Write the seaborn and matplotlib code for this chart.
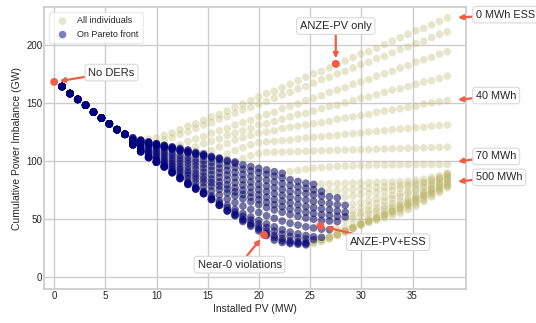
import matplotlib
matplotlib.use("Agg")
import matplotlib.pyplot as plt
import numpy as np
import pandas as pd
import seaborn as sns

# Installed PV of each evaluated design (MW)
pv_mw = [0.77, 1.54, 2.30, 3.07, 3.84, 4.61, 5.38, 6.14, 6.91, 7.68, 8.45, 9.22, 9.98,
         10.75, 11.52, 12.29, 13.06, 13.82, 14.59, 15.36, 16.13, 16.90, 17.66, 18.43,
         19.20, 19.97, 20.74, 21.50, 22.27, 23.04, 23.81, 24.58, 25.34, 26.11, 26.88,
         27.65, 28.42, 29.18, 29.95, 30.72, 31.49, 32.26, 33.02, 33.79, 34.56, 35.33,
         36.10, 36.86, 37.63, 38.40]

# Imbalance (GW) for the first 9 PV sizes: identical for every ESS size
shared_low_pv = [164, 158, 153, 148, 142, 137, 132, 127, 123]

# Imbalance (GW) for PV sizes 7.68 .. 38.40 MW, one list per ESS size (MWh)
ess_0 = [120, 118, 119, 120, 122, 124, 127, 130, 132, 135, 138, 140, 143, 146, 149, 152, 155, 158, 160, 163, 166,
         169, 172, 175, 177, 180, 183, 186, 189, 192, 194, 197, 200, 203, 206, 209, 212, 214, 217, 220, 223]
ess_10 = [120, 118, 116.5, 115, 118, 120, 123, 125, 128, 131, 133, 136, 138, 141, 144, 146, 149, 151, 154, 157, 159,
          162, 164, 167, 170, 172, 175, 177, 180, 183, 185, 188, 190, 193, 196, 198, 201, 203, 206, 209, 211]
ess_20 = [119, 117.6, 116.2, 114.8, 113.4, 112, 114, 117, 119, 121, 124, 126, 128, 131, 133, 135, 138, 140, 142,
          145, 147, 149, 152, 154, 156, 159, 161, 163, 166, 168, 170, 173, 175, 177, 180, 182, 185, 187, 189, 192, 194]
ess_30 = [118.5, 117.2, 116, 114.7, 113.5, 112.2, 111, 109.7, 112, 115, 117, 119, 122, 124, 126, 128, 131, 132, 134,
          136, 138, 140, 141, 143, 145, 147, 148, 150, 152, 154, 155, 157, 159, 161, 162, 164, 166, 168, 169, 171, 173]
ess_40 = [118, 116.7, 115.4, 114.1, 112.8, 111.5, 110.2, 108.9, 107.6, 106.3, 109, 112, 115, 118, 120, 122, 124, 125,
          126, 128, 129, 130, 131, 132, 133, 134, 136, 137, 138, 139, 140, 142, 143, 144, 145, 146, 147, 149, 150,
          151, 152]
ess_50 = [117.5, 116.2, 114.8, 113.5, 112.1, 110.8, 109.4, 108.1, 106.7, 105.4, 104, 102.7, 106, 109, 111.5, 114,
          116, 116.5, 117, 117.5, 118, 119, 120, 120.5, 121, 121.5, 122, 123, 123.5, 124, 125, 125.5, 126, 127,
          127.5, 128, 128.5, 129, 130, 130.5, 131]
ess_60 = [117.5, 116.1, 114.7, 113.3, 111.9, 110.5, 109.1, 107.7, 106.3, 104.9, 103.5, 102.1, 100.7, 99.3, 102,
          104.5, 106.5, 107.4, 107.6, 107.8, 108, 108.2, 108.4, 108.6, 108.8, 109, 109.2, 109.4, 109.6, 109.8, 110,
          110.2, 110.4, 110.6, 110.8, 111, 111.2, 111.4, 111.6, 111.8, 112]
ess_70 = [117, 115.6, 114.1, 112.7, 111.2, 109.8, 108.3, 106.9, 105.4, 104, 102.5, 101.1, 99.6, 98.2, 96.7, 95.3,
          93.8, 92.4, 90.9, 89.5, 91, 92, 93, 93.8, 94.4, 94.9, 95.3, 95.6, 95.9, 96.1, 96.3, 96.5, 96.6, 96.7,
          96.8, 96.9, 96.9, 97, 97, 97, 97]
ess_80 = [117, 115, 113, 111, 109, 107, 105, 103.5, 102, 100.5, 99, 97.5, 96, 94.5, 93, 91.5, 90, 88.5, 87, 85.5,
          84, 82.5, 81, 80, 80.2, 80.4, 80.6, 80.8, 81, 81.2, 81.4, 81.6, 81.8, 82, 82.3, 82.7, 83.5, 84.5, 86,
          87.5, 89.5]
ess_90 = [116.5, 114, 111.5, 109, 107, 104.8, 102.5, 100.8, 99, 97.2, 95.5, 93.8, 92, 90.2, 88.5, 86.8, 85, 83.5,
          82, 80.5, 79, 77.8, 76.5, 75.3, 74, 74.3, 74.6, 75, 75.5, 76, 76.6, 77.2, 77.8, 78.4, 79.2, 80, 81, 82.2,
          84, 86, 89]
ess_100 = [116, 113, 110, 107.5, 105, 102.5, 100, 98, 96, 94, 92, 90, 88, 86, 84, 82, 80, 78.5, 77, 75.5, 74, 73,
           72, 71, 70, 69.3, 68.5, 69, 70, 71, 72, 73, 74, 75, 76.5, 78, 79.5, 81, 83, 85, 88]
ess_120 = [115.5, 112, 109, 106, 103, 100.3, 97.5, 95, 92.8, 90.5, 88.3, 86, 83.8, 81.5, 79.5, 77.5, 75.5, 73.8, 72,
           70.5, 69, 67.8, 66.5, 65.5, 64.5, 63.5, 62.5, 62, 63, 64.5, 66, 67.5, 69, 70.5, 72, 74, 76, 78.5, 81,
           84, 87]
ess_150 = [115, 111, 107.5, 104, 101, 98, 95, 92, 89.5, 87, 84.5, 82, 79.5, 77, 75, 73, 71, 69, 67, 65.5, 64, 62.5,
           61, 60, 59, 58, 57, 56, 57.5, 59.5, 61.5, 63.5, 65.5, 67.5, 69.5, 72, 74.5, 77, 79.5, 82.5, 85.5]
ess_175 = [114.5, 110.5, 106.5, 102.8, 99.5, 96.3, 93, 89.8, 87, 84.3, 81.5, 78.8, 76, 73.5, 71.3, 69, 66.8, 64.5,
           62.5, 60.8, 59, 57.5, 56, 55, 54, 53.2, 52.5, 52, 53.5, 55.5, 57.5, 59.5, 61.5, 63.5, 65.5, 68, 70.5,
           73.5, 77, 80.5, 84.5]
ess_200 = [114, 110, 105.5, 101.5, 98, 94.5, 91, 87.5, 84.5, 81.5, 78.5, 75.5, 72.5, 70, 67.5, 65, 62.5, 60, 58, 56,
           54, 52.5, 51, 50, 49, 48.5, 48, 49, 51, 53, 55, 57, 59, 61, 63, 66, 69, 72.5, 76, 80, 84]
ess_250 = [114, 109, 104.5, 100.5, 96.8, 92.8, 88.8, 84.8, 81.3, 77.8, 74.3, 70.8, 67.3, 64.3, 61.3, 58.5, 55.8, 53,
           50.8, 48.5, 46.5, 45, 43.5, 42.5, 41.5, 41, 41.5, 43, 45.5, 48, 51, 54, 56.5, 59, 61.5, 64.5, 68, 71.5,
           75, 78.5, 82.5]
ess_300 = [114, 108.5, 103.5, 99.5, 95.5, 91, 86.5, 82, 78, 74, 70, 66, 62, 58.5, 55, 52, 49, 46, 43.5, 41, 39, 37.5,
           36, 35, 34.5, 35.5, 37, 39.5, 42, 45, 48, 51, 54, 57, 60, 63, 67, 70.5, 74, 77.5, 81]
ess_350 = [114, 108, 103, 99, 95, 90.5, 85.8, 81, 77, 73, 68.5, 64, 59.8, 56.3, 52.5, 49.3, 46, 42.8, 39.8, 37.3,
           35.3, 34, 33, 32.5, 33, 34.5, 37, 39.8, 42.5, 45.5, 48.5, 51, 54, 56.8, 59.5, 62.5, 66, 69.5, 73, 76.5, 80]
ess_400 = [114, 108, 103, 99, 95, 90, 85, 80, 76, 72, 67, 62, 57.5, 54, 50, 46.5, 43, 39.5, 36, 33.5, 31.5, 30.5, 30,
           31, 32.5, 34.5, 37, 40, 43, 46, 49, 51.5, 54, 56.5, 59, 62, 65, 68.5, 72, 75.5, 79]
ess_450 = [114, 108, 103, 99, 95, 90, 85, 80, 76, 72, 67, 62, 57.2, 53.5, 49, 45, 41.5, 37.5, 34, 31.5, 30, 29.5, 29,
           30, 31.5, 33.5, 36.5, 39.5, 42.5, 45.5, 48, 50, 52.5, 55, 57, 60, 63, 66.5, 70.5, 74, 78]
ess_500 = [114, 108, 103, 99, 95, 90, 85, 80, 76, 72, 67, 62, 57, 53, 48, 44, 40, 36, 32, 30, 29, 28.5, 28, 29, 31,
           33, 36, 39, 42, 45, 47, 49, 51, 53, 55, 58, 61, 65, 69, 73, 77]

ess_sizes = [0, 10, 20, 30, 40, 50, 60, 70, 80, 90, 100, 120, 150, 175, 200, 250, 300, 350, 400, 450, 500]
ess_curves = [ess_0, ess_10, ess_20, ess_30, ess_40, ess_50, ess_60, ess_70, ess_80, ess_90,
              ess_100, ess_120, ess_150, ess_175, ess_200, ess_250, ess_300, ess_350, ess_400, ess_450, ess_500]

# Highlighted solutions
hl_labels = ["No DERs", "ANZE-PV only", "Near-0 violations", "ANZE-PV+ESS"]
hl_pv = [0.0, 27.5, 20.5, 26.0]
hl_imb = [168, 183.5, 36.5, 44.3]
hl_text_xy = [(5.6, 176), (27.5, 216), (18.1, 11), (32.6, 30.3)]

# ESS curve labels on the right
ess_label_text = ["0 MWh ESS", "40 MWh", "70 MWh", "500 MWh"]
ess_label_target = [223, 152, 99, 82]
ess_label_y = [225.8, 156.3, 104, 86]

# ---- build table ----
rows = []
for ess, curve in zip(ess_sizes, ess_curves):
    ys = shared_low_pv + curve
    best = np.inf
    for p, y in zip(pv_mw, ys):
        pareto = y < best
        best = min(best, y)
        rows.append({"ess": ess, "pv": p, "imbalance": y, "pareto": pareto})
df = pd.DataFrame(rows)

sns.set_theme(style="whitegrid")
plt.rcParams['font.family'] = ['Liberation Sans', 'DejaVu Sans']

fig = plt.figure(figsize=(5.36, 3.23), dpi=100)
ax = fig.add_axes([0.083, 0.105, 0.786, 0.872])

sns.scatterplot(data=df, x="pv", y="imbalance", color="#bdb76b", alpha=0.35, s=30,
                edgecolor="none", label="All individuals", ax=ax, zorder=2)
sns.scatterplot(data=df[df["pareto"]], x="pv", y="imbalance", color="navy", alpha=0.5, s=30,
                edgecolor="none", label="On Pareto front", ax=ax, zorder=3)

red = "#f25c45"
ax.scatter(hl_pv, hl_imb, s=32, color=red, zorder=5, edgecolor="none")

box = dict(boxstyle="round,pad=0.3", fc="white", ec="0.85", lw=0.8)
arrow = dict(arrowstyle="-|>", color=red, lw=1.6, mutation_scale=7, shrinkA=0, shrinkB=4)
for lab, px, py, (tx, ty) in zip(hl_labels, hl_pv, hl_imb, hl_text_xy):
    ax.annotate(lab, xy=(px, py), xytext=(tx, ty), ha="center", va="center", fontsize=8,
                bbox=box, arrowprops=arrow, zorder=6)

for lab, yt, yl in zip(ess_label_text, ess_label_target, ess_label_y):
    ax.annotate(lab, xy=(38.9, yt), xytext=(41.2, yl), ha="left", va="center", fontsize=7.8,
                bbox=box, arrowprops=arrow, annotation_clip=False, zorder=6)

ax.set_xlim(-0.95, 40.2)
ax.set_ylim(-10, 232)
ax.set_xticks([0, 5, 10, 15, 20, 25, 30, 35])
ax.set_yticks([0, 50, 100, 150, 200])
ax.tick_params(labelsize=7, pad=1.5, length=0)
ax.set_xlabel("Installed PV (MW)", fontsize=7.5, labelpad=2)
ax.set_ylabel("Cumulative Power Imbalance (GW)", fontsize=7.5, labelpad=3)

leg = ax.legend(loc="upper left", fontsize=6.5, frameon=True, borderpad=0.5,
                handletextpad=0.6, markerscale=1.0)
leg.get_frame().set_edgecolor("0.9")

fig.savefig("out.png", dpi=100)
